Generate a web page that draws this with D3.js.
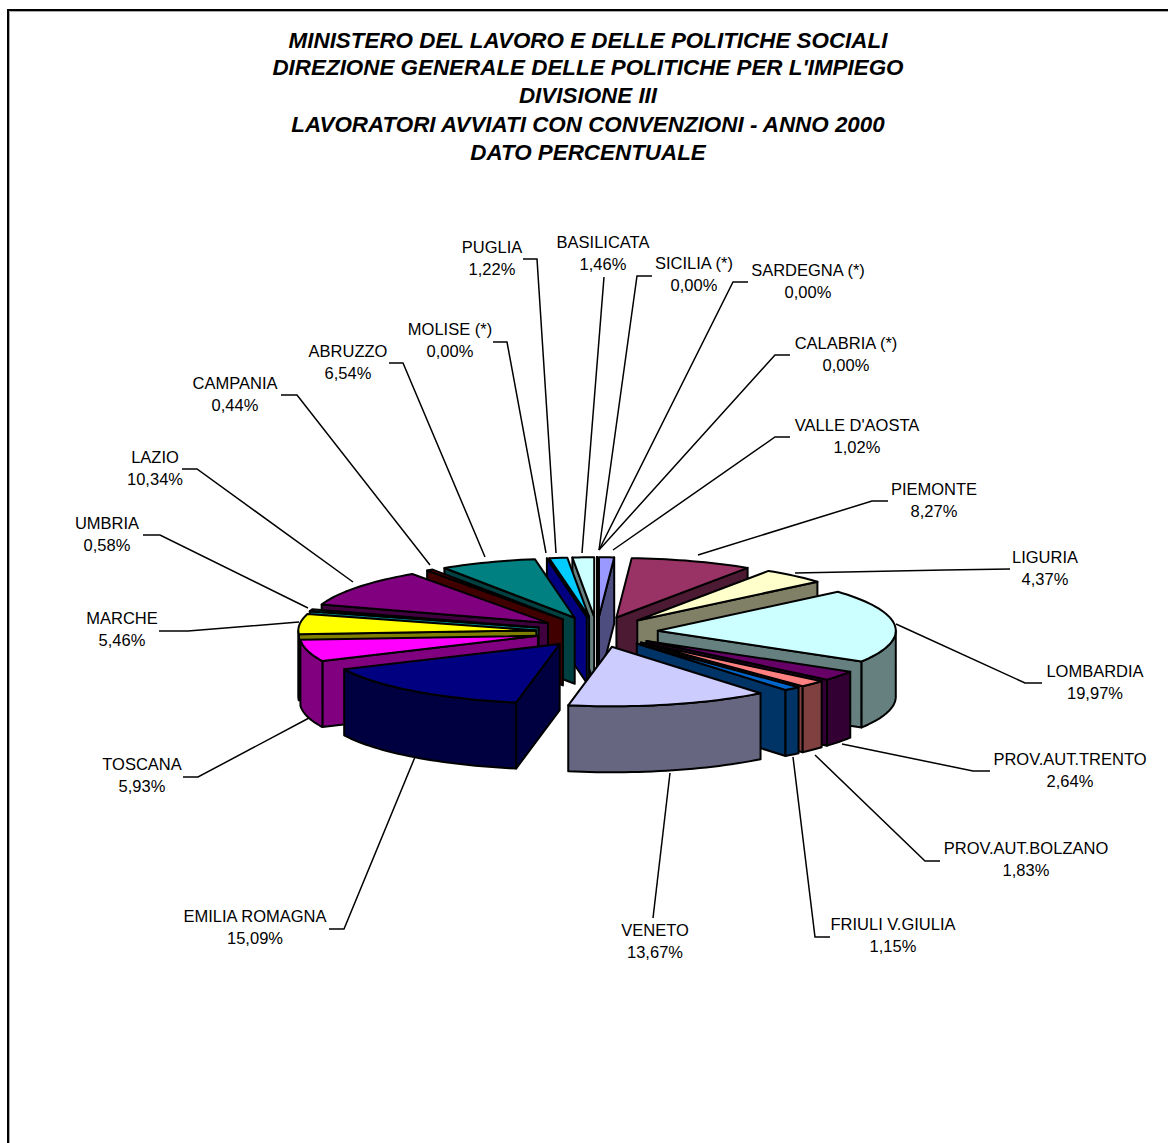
<!DOCTYPE html>
<html>
<head>
<meta charset="utf-8">
<script src="https://cdn.jsdelivr.net/npm/d3@7/dist/d3.min.js"></script>
<style>
html,body{margin:0;padding:0;background:#fff;overflow:hidden}
svg{display:block}
text{font-family:"Liberation Sans",Arial,sans-serif;fill:#000}
</style>
</head>
<body>
<svg id="c" width="1168" height="1143"></svg>
<script>
const titleLines = [
  "MINISTERO DEL LAVORO E DELLE POLITICHE SOCIALI",
  "DIREZIONE GENERALE DELLE POLITICHE PER L'IMPIEGO",
  "DIVISIONE III",
  "LAVORATORI AVVIATI CON CONVENZIONI - ANNO 2000",
  "DATO PERCENTUALE"
];
const regions = ["VALLE D'AOSTA","PIEMONTE","LIGURIA","LOMBARDIA","PROV.AUT.TRENTO","PROV.AUT.BOLZANO","FRIULI V.GIULIA","VENETO","EMILIA ROMAGNA","TOSCANA","MARCHE","UMBRIA","LAZIO","CAMPANIA","ABRUZZO","MOLISE (*)","PUGLIA","BASILICATA","SICILIA (*)","SARDEGNA (*)","CALABRIA (*)"];
const shares = [1.02,8.27,4.37,19.97,2.64,1.83,1.15,13.67,15.09,5.93,5.46,0.58,10.34,0.44,6.54,0,1.22,1.46,0,0,0];
const colors = ["#9999FF","#993366","#FFFFCC","#CCFFFF","#660066","#FF8080","#0066CC","#CCCCFF","#000080","#FF00FF","#FFFF00","#00FFFF","#800080","#800000","#008080","#0000FF","#00CCFF","#CCFFFF","#CCFFCC","#FFFF99","#99CCFF"];

// Layout of the callouts, by region index: label centre and leader polyline.
const callouts = [
  {x:857,y:425,path:[[790,437],[775,437],[613,550]]},
  {x:934,y:489,path:[[888,501],[872,501],[698,555]]},
  {x:1045,y:557,path:[[1010,569],[945,570],[795,573]]},
  {x:1095,y:671,path:[[1042,683],[1025,683],[896,624]]},
  {x:1070,y:759,path:[[990,771],[973,771],[842,744]]},
  {x:1026,y:848,path:[[940,861],[925,861],[815,755]]},
  {x:893,y:924,path:[[830,937],[815,937],[793,757]]},
  {x:655,y:930,path:[[653,918],[670,773]]},
  {x:255,y:916,path:[[329,929],[344,929],[415,757]]},
  {x:142,y:764,path:[[183,777],[198,777],[309,718]]},
  {x:122,y:618,path:[[159,631],[188,631],[299,622]]},
  {x:107,y:523,path:[[143,535],[160,535],[308,608]]},
  {x:155,y:457,path:[[182,469],[197,469],[353,582]]},
  {x:235,y:383,path:[[281,395],[297,395],[430,565]]},
  {x:348,y:351,path:[[389,363],[403,363],[485,557]]},
  {x:450,y:329,path:[[493,342],[507,342],[546,553]]},
  {x:492,y:247,path:[[523,259],[537,259],[556,553]]},
  {x:603,y:242,path:[[604,277],[582,553]]},
  {x:694,y:263,path:[[652,276],[637,276],[599,550]]},
  {x:808,y:270,path:[[748,282],[733,282],[599,550]]},
  {x:846,y:343,path:[[790,355],[775,355],[599,550]]}
];

const cx = 597, cy = 632, R = 238, tilt = 0.25, explode = 61, depth = 66;
const svg = d3.select("#c");

// frame
svg.append("path").attr("d","M8,1143V10H1168").attr("fill","none").attr("stroke","#000").attr("stroke-width",2);
svg.append("path").attr("d","M9.5,1143V11.5H1168").attr("fill","none").attr("stroke","#aaa").attr("stroke-width",1);

// title
svg.append("g").selectAll("text").data(titleLines).join("text")
  .attr("x",588).attr("y",(d,i)=>[47.5,75,103,131.5,159.5][i])
  .attr("text-anchor","middle")
  .attr("font-size",22.4).attr("font-weight","bold").attr("font-style","italic")
  .text(d=>d);

// leaders
svg.append("g").selectAll("path").data(callouts).join("path")
  .attr("d",d=>d3.line()(d.path)).attr("fill","none").attr("stroke","#000").attr("stroke-width",1.5);

// pie
const arcs = d3.pie().sort(null).startAngle(0).endAngle(2*Math.PI)(shares)
  .map((a,i)=>({...a,i,mid:(a.startAngle+a.endAngle)/2}));
const rx = d3.scaleLinear().domain([-1,1]).range([-R,R]);
const ry = d3.scaleLinear().domain([-1,1]).range([R*tilt,-R*tilt]);

function apex(s,h=0){
  return [cx+explode/R*rx(Math.sin(s.mid)), cy+explode/R*ry(Math.cos(s.mid))+h];
}
function rim(s,t,h=0){
  const a=apex(s,h);
  return [a[0]+rx(Math.sin(t)), a[1]+ry(Math.cos(t))];
}
function sweep(a0,a1){
  const n=Math.max(1,Math.ceil((a1-a0)/0.03));
  return d3.range(n+1).map(k=>a0+(a1-a0)*k/n);
}
const line = d3.line();
const closed = pts => line(pts)+"Z";
const g = svg.append("g").attr("stroke","#000").attr("stroke-width",2).attr("stroke-linejoin","round");

arcs.slice().sort((p,q)=>Math.cos(q.mid)-Math.cos(p.mid)).forEach(s=>{
  const top=colors[s.i];
  const c=d3.rgb(top), side=d3.rgb(c.r/2,c.g/2,c.b/2).formatHex();
  const a0=s.startAngle,a1=s.endAngle;
  const walls=[];
  if(Math.sin(a0)<0) walls.push(a0);
  if(Math.sin(a1)>0) walls.push(a1);
  walls.forEach(t=>{
    g.append("path").attr("fill",side)
     .attr("d",closed([apex(s),rim(s,t),rim(s,t,depth),apex(s,depth)]));
  });
  const lo=Math.max(a0,Math.PI/2),hi=Math.min(a1,3*Math.PI/2);
  if(hi>lo){
    const ts=sweep(lo,hi);
    g.append("path").attr("fill",side)
     .attr("d",closed(ts.map(t=>rim(s,t)).concat(ts.slice().reverse().map(t=>rim(s,t,depth)))));
  }
  const ts=sweep(a0,a1);
  g.append("path").attr("fill",top)
   .attr("d",closed([apex(s)].concat(ts.map(t=>rim(s,t)))));
});

// labels
const fmt = v=>v.toFixed(2).replace(".",",")+"%";
const lab = svg.append("g").attr("font-size",16.5).attr("text-anchor","middle");
callouts.forEach((c,i)=>{
  lab.append("text").attr("x",c.x).attr("y",c.y+6).text(regions[i]);
  lab.append("text").attr("x",c.x).attr("y",c.y+28).text(fmt(shares[i]));
});
</script>
</body>
</html>
